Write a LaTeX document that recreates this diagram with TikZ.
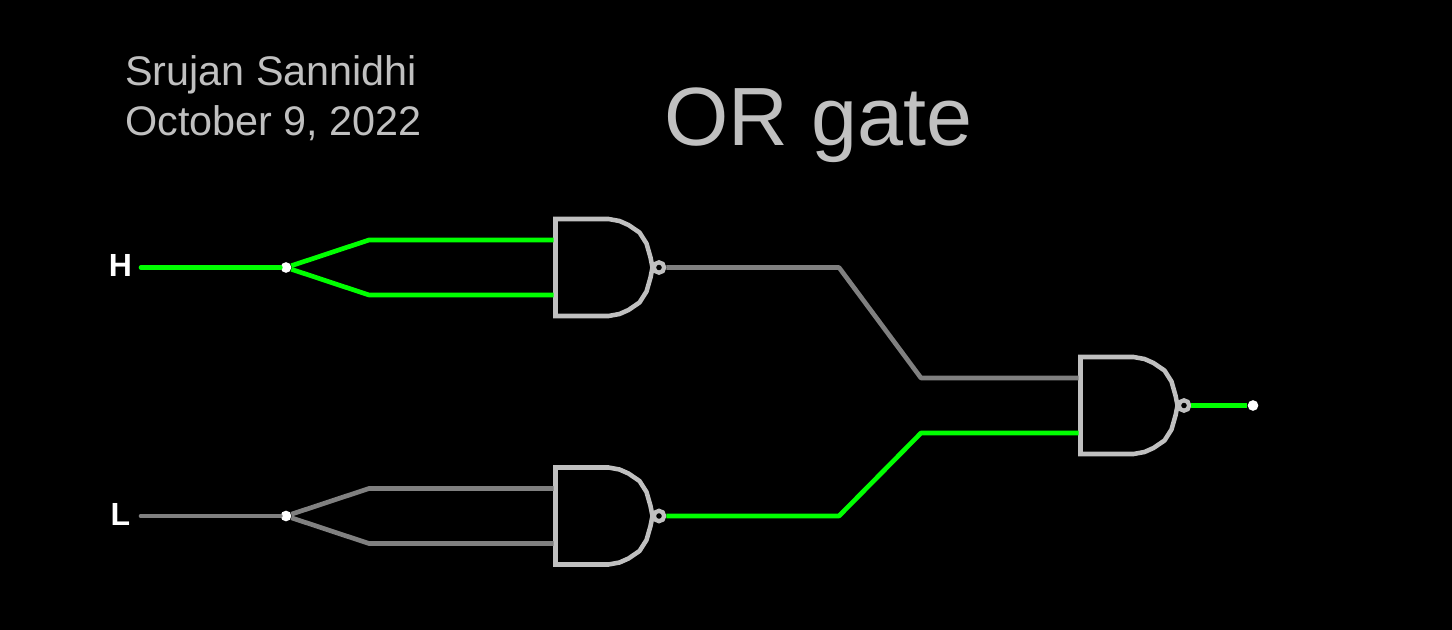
\documentclass[tikz,border=0pt]{standalone}
\usepackage{fontspec}
\setmainfont{Liberation Sans}
\tikzset{
	wireon/.style={line width=3.5pt, color=wiregreen, line join=round},
	wireoff/.style={line width=3.5pt, color=wiregray, line join=round},
	titletext/.style={color=gatesilver, anchor=base west, inner sep=0pt},
	pinlabel/.style={color=white, font=\fontsize{24}{24}\selectfont\bfseries},
	dot/.style={circle, fill=white, inner sep=0pt, minimum size=8pt},
	bubble/.style={circle, draw=gatesilver, fill=black, line width=3.2pt, inner sep=0pt, minimum size=7.8pt},
	nandgate/.pic={
		\coordinate (-in1) at (-2, -27.5);
		\coordinate (-in2) at (-2, 27.5);
		\draw[line width=3.4pt, color=gatesilver, miter limit=4]
			(53, -48.5) -- (0, -48.5) -- (0, 48.5) -- (53, 48.5)
			-- (64, 46.5) -- (73, 42.5) -- (84, 35) -- (91, 24) -- (95, 10) -- (97, 0)
			-- (95, -10) -- (91, -24) -- (84, -35) -- (73, -42.5) -- (64, -46.5) -- cycle;
		\node[bubble] (-out) at (103.5, 0) {};
	}
}
\definecolor{wiregreen}{HTML}{00FF00}
\definecolor{wiregray}{HTML}{808080}
\definecolor{gatesilver}{HTML}{C0C0C0}
\begin{document}
\begin{tikzpicture}[x=0.75pt, y=-0.75pt]
	%%%%% START %%%%%
	\fill[black] (0, 0) rectangle (1452, 630);
	\useasboundingbox (0, 0) rectangle (1452, 630);
	
	\node[titletext, font=\fontsize{31}{31}\selectfont] (author) at (125, 86) {Srujan Sannidhi};
	\node[titletext, font=\fontsize{31}{31}\selectfont] (date) at (125, 136) {October 9, 2022};
	\node[titletext, font=\fontsize{62}{62}\selectfont] (title) at (664, 146) {OR gate};
	
	\node[pinlabel] (hlabel) at (120.5, 265) {H};
	\node[pinlabel] (llabel) at (120.5, 514) {L};
	
	\coordinate (hstart) at (141, 267.5);
	\coordinate (lstart) at (141, 516);
	\coordinate (hup) at (369, 240);
	\coordinate (hdown) at (369, 295);
	\coordinate (lup) at (369, 488.5);
	\coordinate (ldown) at (369, 543.5);
	\coordinate (abend) at (839, 267.5);
	\coordinate (acbend) at (921, 378);
	\coordinate (bbend) at (839, 516);
	\coordinate (bcbend) at (921, 433);
	
	\node[dot] (hsplit) at (286, 267.5) {};
	\node[dot] (lsplit) at (286, 516) {};
	\node[dot] (result) at (1253, 405.5) {};
	
	\pic (gatea) at (555.5, 267.5) {nandgate};
	\pic (gateb) at (555.5, 516) {nandgate};
	\pic (gatec) at (1080.5, 405.5) {nandgate};
	
	\draw[wireon, line cap=round] (hstart) -- (hsplit);
	\draw[wireon] (hsplit) -- (hup) -- (gatea-in1);
	\draw[wireon] (hsplit) -- (hdown) -- (gatea-in2);
	
	\draw[wireoff, line cap=round] (lstart) -- (lsplit);
	\draw[wireoff] (lsplit) -- (lup) -- (gateb-in1);
	\draw[wireoff] (lsplit) -- (ldown) -- (gateb-in2);
	
	\draw[wireoff] (gatea-out) -- (abend) -- (acbend) -- (gatec-in1);
	\draw[wireon] (gateb-out) -- (bbend) -- (bcbend) -- (gatec-in2);
	\draw[wireon] (gatec-out) -- (result);
	%%%%% END %%%%%
\end{tikzpicture}
\end{document}
